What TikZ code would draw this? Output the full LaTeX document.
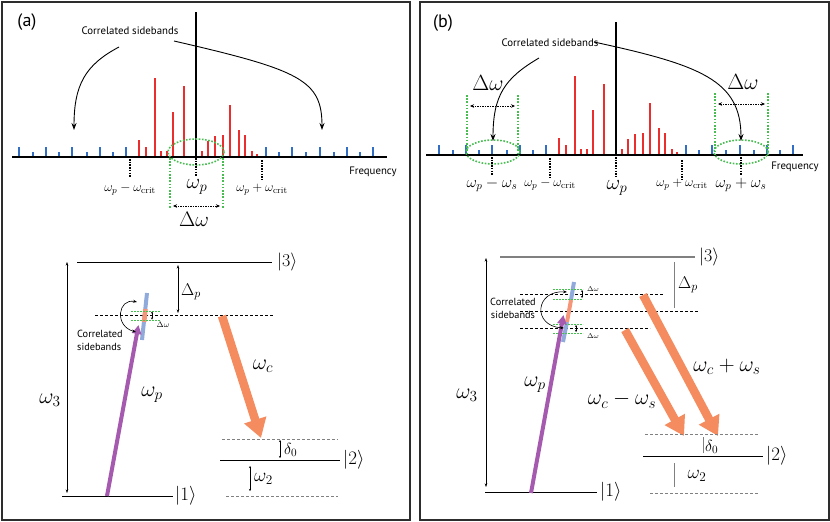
\RequirePackage{fix-cm}
\documentclass[tikz,border=0pt]{standalone}
\usepackage{fontspec}
\newfontfamily\labfont{PT Sans}
\usetikzlibrary{arrows.meta}
\definecolor{redbar}{RGB}{235,45,45}
\definecolor{bluebar}{RGB}{50,110,195}
\definecolor{grn}{RGB}{70,190,80}
\definecolor{purp}{RGB}{165,90,175}
\definecolor{orng}{RGB}{245,140,95}
\definecolor{lblue}{RGB}{145,170,220}
\definecolor{lorng}{RGB}{245,150,120}
\definecolor{framec}{RGB}{45,45,45}
\tikzset{
  panel/.style={draw=framec, line width=2pt},
  baseln/.style={line width=1.8pt},
  rbar/.style={draw=redbar, line width=2pt},
  bbar/.style={draw=bluebar, line width=2.4pt},
  gdot/.style={draw=grn, line width=1.6pt, dash pattern=on 1.6pt off 1.6pt},
  gdash/.style={draw=grn, line width=0.9pt, dash pattern=on 2pt off 1pt},
  tickd/.style={line width=1.8pt, dash pattern=on 1.5pt off 1.2pt},
  darr/.style={line width=0.8pt, dash pattern=on 1.5pt off 1pt, {Stealth[length=4pt,width=3.5pt]}-{Stealth[length=4pt,width=3.5pt]}},
  curvarr/.style={line width=0.9pt, -{Stealth[length=7pt,width=5pt]}},
  smallcurv/.style={line width=0.6pt, {Stealth[length=4pt,width=3pt]}-{Stealth[length=4pt,width=3pt]}},
  levelarr/.style={line width=0.5pt, {Stealth[length=3.5pt,width=2.5pt]}-{Stealth[length=3.5pt,width=2.5pt]}},
  tinyarr/.style={line width=0.4pt, {Stealth[length=2pt,width=2pt]}-{Stealth[length=2pt,width=2pt]}},
  level/.style={line width=0.6pt},
  dlevel/.style={line width=0.6pt, dash pattern=on 3pt off 2pt},
  glevel/.style={draw=gray, line width=0.6pt, dash pattern=on 3pt off 2pt},
  lab/.style={font=\labfont\fontsize{10.8}{12}\selectfont, inner sep=0pt},
  slab/.style={font=\labfont\fontsize{10.3}{13}\selectfont, inner sep=0pt},
  panlab/.style={font=\labfont\fontsize{18}{20}\selectfont, inner sep=0pt},
  pump/.style={draw=purp, line width=4pt, -{Triangle[width=9pt,length=9pt]}},
  couple/.style={draw=orng, line width=8.5pt, -{Triangle[width=22pt,length=19pt]}},
  fs/.style={font=\fontsize{#1}{#1}\selectfont, inner sep=0pt},
}
\newcommand\drawbars[1]{%
  \foreach \dx/\h in {-57/17,-50/10,-41/79,-35/6,-29/6,-23/45,-12/71,6/6,12/16,19/21,27/22,34/52,43/27,49/22,56/6,61/3}
    \draw[rbar] (\dx,0) -- (\dx,-\h);
  \foreach \dx/\h in {-177/10,-163/5,-150/10,-137/5,-124/10,-109/5,-96/10,-83/5,-70/10,70/10,83/5,96/10,110/5,124/10,138/5,151/10,164/5,177/10}
    \draw[bbar] (\dx,0) -- (\dx,-\h);
}
\begin{document}
\begin{tikzpicture}[x=1pt,y=-1pt]
\useasboundingbox (0,0) rectangle (830,522);
\fill[white] (0,0) rectangle (830,522);
% panels
\draw[panel] (1.5,1.5) rectangle (409.5,520);
\draw[panel] (419.5,1.5) rectangle (828.5,520);
\node[panlab] (pa) at (27,22) {(a)};
\node[panlab] (pb) at (443,23) {(b)};

%================ panel (a) spectrum
\begin{scope}[shift={(196,157)}]
  \drawbars{}
\end{scope}
\draw[baseln] (12,157) -- (387,157);
\draw[baseln] (196,12) -- (196,157);
\draw[gdot] (196,152) ellipse [x radius=28, y radius=13];
\draw[gdot] (170,158) -- (170,208);
\draw[gdot] (223,158) -- (223,208);
\draw[darr] (173,206) -- (220,206);
\node[fs=21] (adw) at (194,219) {$\Delta\omega$};
\draw[tickd] (130,159) -- (130,177);
\draw[tickd] (196,158) -- (196,176);
\draw[tickd] (262,160) -- (262,180);
\node[fs=13] (aml) at (130,190) {$\omega_p-\omega_{\mathrm{crit}}$};
\node[fs=21] (awp) at (197,187) {$\omega_p$};
\node[fs=13] (apl) at (262,190) {$\omega_p+\omega_{\mathrm{crit}}$};
\node[lab] (afr) at (373,172) {Frequency};
\node[lab] (acs) at (130,31) {Correlated sidebands};
\coordinate (al1) at (119,47);
\coordinate (al2) at (74,130);
\coordinate (ar1) at (174,41);
\coordinate (ar2) at (322,130);
\draw[curvarr] (al1) .. controls (85,65) and (74,85) .. (al2);
\draw[curvarr] (ar1) .. controls (300,70) and (322,80) .. (ar2);

%================ panel (b) spectrum
\begin{scope}[shift={(616,155)}]
  \drawbars{}
\end{scope}
\draw[baseln] (426,155) -- (803,155);
\draw[baseln] (616,22) -- (616,155);
\draw[gdot] (493,152) ellipse [x radius=27, y radius=12];
\draw[gdot] (741,152) ellipse [x radius=27, y radius=12];
\draw[gdot] (467,95) -- (467,154);
\draw[gdot] (518,95) -- (518,154);
\draw[gdot] (715,93) -- (715,154);
\draw[gdot] (768,93) -- (768,154);
\draw[darr] (470,106) -- (515,106);
\draw[darr] (718,104) -- (765,104);
\node[fs=22] (bdw1) at (488,83) {$\Delta\omega$};
\node[fs=22] (bdw2) at (743,82) {$\Delta\omega$};
\draw[tickd] (492,157) -- (492,175);
\draw[tickd] (550,158) -- (550,177);
\draw[tickd] (616,157) -- (616,177);
\draw[tickd] (682,160) -- (682,180);
\draw[tickd] (741,157) -- (741,175);
\node[fs=16] (bms) at (492,185) {$\omega_p-\omega_s$};
\node[fs=13] (bml) at (550,185) {$\omega_p-\omega_{\mathrm{crit}}$};
\node[fs=21] (bwp) at (617,188) {$\omega_p$};
\node[fs=13] (bpl) at (682,185) {$\omega_p+\omega_{\mathrm{crit}}$};
\node[fs=16] (bps) at (741,185) {$\omega_p+\omega_s$};
\node[lab] (bfr) at (795,167) {Frequency};
\node[lab] (bcs) at (550,43) {Correlated sidebands};
\coordinate (bl1) at (539,58);
\coordinate (bl2) at (493,141);
\coordinate (br1) at (594,42);
\coordinate (br2) at (741,141);
\draw[curvarr] (bl1) .. controls (505,78) and (493,95) .. (bl2);
\draw[curvarr] (br1) .. controls (700,65) and (741,80) .. (br2);

%================ panel (a) levels
\draw[level] (77,262) -- (272,262);
\node[fs=18, anchor=west] (ak3) at (277,262) {$|3\rangle$};
\draw[levelarr] (67,262) -- (67,493);
\node[fs=22] (aw3) at (50,400) {$\omega_3$};
\draw[level] (62,496) -- (173,496);
\node[fs=19, anchor=west] (ak1) at (175,496) {$|1\rangle$};
\draw[dlevel] (95,315) -- (273,315);
\draw[levelarr] (178,265) -- (178,313);
\node[fs=17, anchor=west] (adp) at (181,292) {$\Delta_p$};
\draw[lblue, line width=4pt] (147,293) -- (142,340);
\draw[lorng, line width=4.5pt] (145.4,309) -- (144.2,322);
\draw[gdash] (131,311) -- (160,311);
\draw[gdash] (131,320) -- (160,320);
\draw[tinyarr] (152,311.5) -- (152,319.5);
\node[fs=8] (asdw) at (163,325) {$\Delta\omega$};
\draw[pump] (107,496) -- (138.5,325);
\node[fs=22] (awpl) at (152,395) {$\omega_p$};
\draw[smallcurv] (137,302) .. controls (118,298) and (114,326) .. (136,332);
\node[slab, anchor=west, align=left] (acs2) at (77,340) {Correlated\\sidebands};
\draw[couple] (222,316) -- (261,438);
\node[fs=22] (awc) at (263,366) {$\omega_c$};
\draw[glevel] (222,439) -- (338,439);
\draw[level] (220,460) -- (340,460);
\node[fs=19, anchor=west] (ak2) at (343,460) {$|2\rangle$};
\draw[glevel] (226,496) -- (338,496);
\draw[tinyarr] (280,440) -- (280,458);
\node[fs=16, anchor=west] (ad0) at (284,450) {$\delta_0$};
\draw[tinyarr] (250,466) -- (250,491);
\node[fs=19, anchor=west] (aw2) at (254,479) {$\omega_2$};

%================ panel (b) levels
\draw[draw=gray, line width=1.2pt] (500,257) -- (695,257);
\node[fs=18, anchor=west] (bk3) at (699,257) {$|3\rangle$};
\draw[levelarr] (486,258) -- (486,487);
\node[fs=22] (bw3) at (467,395) {$\omega_3$};
\draw[level] (485,492) -- (597,492);
\node[fs=19, anchor=west] (bk1) at (600,492) {$|1\rangle$};
\draw[dlevel] (520,311) -- (698,311);
\draw[dlevel] (520,294) -- (663,294);
\draw[dlevel] (520,328) -- (650,328);
\draw[draw=gray, line width=0.6pt] (674,262) -- (674,308);
\node[fs=17, anchor=west] (bdp) at (678,285) {$\Delta_p$};
\draw[lblue, line width=4pt] (574,282) -- (571,300);
\draw[lblue, line width=4pt] (567,322) -- (563,342);
\draw[lorng, line width=4pt] (571,300) -- (567,322);
\draw[gdash] (553,289) -- (583,289);
\draw[gdash] (553,299) -- (583,299);
\draw[gdash] (553,324) -- (583,324);
\draw[gdash] (553,333) -- (583,333);
\draw[tinyarr] (582,290) -- (582,298);
\draw[tinyarr] (576,325) -- (576,332);
\node[fs=7] (bsdw1) at (593,289) {$\Delta\omega$};
\node[fs=7] (bsdw2) at (593,336) {$\Delta\omega$};
\draw[pump] (531,493) -- (563.5,315);
\node[fs=22] (bwpl) at (535,385) {$\omega_p$};
\draw[smallcurv] (567,292) .. controls (535,290) and (532,326) .. (564,328);
\node[slab, align=center] (bcs2) at (513,308) {Correlated\\sidebands};
\draw[couple] (643,295) -- (718,436);
\draw[couple] (625,330) -- (684,436);
\node[fs=22] (bcp) at (727,367) {$\omega_c+\omega_s$};
\node[fs=22] (bcm) at (622,400) {$\omega_c-\omega_s$};
\draw[glevel] (645,434) -- (758,434);
\draw[level] (643,456) -- (763,456);
\node[fs=19, anchor=west] (bk2) at (766,456) {$|2\rangle$};
\draw[glevel] (650,493) -- (758,493);
\draw[draw=gray, line width=0.6pt] (703,437) -- (703,453);
\node[fs=16, anchor=west] (bd0) at (705,447) {$\delta_0$};
\draw[draw=gray, line width=0.6pt] (674,463) -- (674,487);
\node[fs=19] (bw2) at (697,476) {$\omega_2$};
\end{tikzpicture}
\end{document}
